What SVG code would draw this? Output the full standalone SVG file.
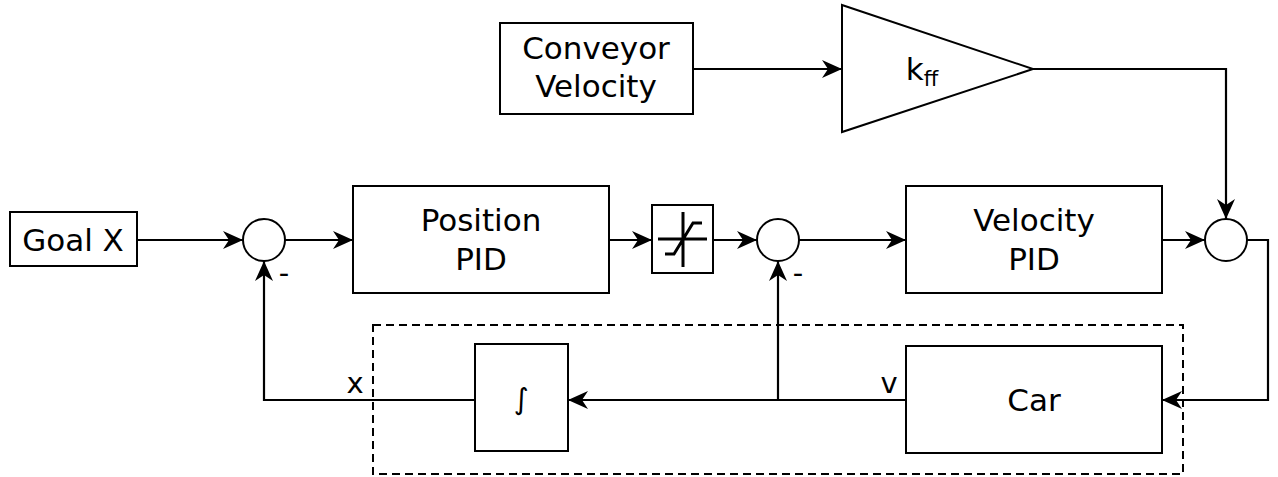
<svg xmlns="http://www.w3.org/2000/svg" width="1278" height="477" viewBox="0 0 1278 477">
<style>
.b{fill:#fff;stroke:#000;stroke-width:2}
.t{font-family:"DejaVu Sans",sans-serif;font-size:31px;fill:#000;text-anchor:middle}
.s{font-family:"DejaVu Sans",sans-serif;font-size:29px;fill:#000;text-anchor:middle}
.c{fill:none;stroke:#000;stroke-width:2.2}
</style>
<defs>
<marker id="a" viewBox="-21 -11 23 22" refX="0" refY="0" markerWidth="23" markerHeight="22" orient="auto" markerUnits="userSpaceOnUse"><path d="M0,0 L-20,-9 L-14,0 L-20,9 Z" fill="#000"/></marker>
</defs>
<rect x="373" y="325" width="810" height="149" fill="none" stroke="#000" stroke-width="2" stroke-dasharray="8,5"/>
<g id="connectors">
<path class="c" d="M137,240 H243" marker-end="url(#a)"/>
<path class="c" d="M285,240 H353" marker-end="url(#a)"/>
<path class="c" d="M609,240 H652" marker-end="url(#a)"/>
<path class="c" d="M713,240 H757" marker-end="url(#a)"/>
<path class="c" d="M799,240 H906" marker-end="url(#a)"/>
<path class="c" d="M1162,240 H1205" marker-end="url(#a)"/>
<path class="c" d="M693,69 H842" marker-end="url(#a)"/>
<path class="c" d="M1033,69 H1226 V219" marker-end="url(#a)"/>
<path class="c" d="M1247,240 H1268 V400 H1162" marker-end="url(#a)"/>
<path class="c" d="M906,400 H568" marker-end="url(#a)"/>
<path class="c" d="M778,400 V261" marker-end="url(#a)"/>
<path class="c" d="M475,400 H264 V261" marker-end="url(#a)"/>
</g>
<g id="goal"><rect class="b" x="10" y="212" width="127" height="54"/><text class="t" x="73" y="251">Goal X</text></g>
<g id="conveyor"><rect class="b" x="500" y="23" width="193" height="91"/><text class="t" x="596" y="59">Conveyor</text><text class="t" x="596" y="97">Velocity</text></g>
<g id="kff"><path class="b" d="M842,5 L1033,69 L842,132 Z"/><text class="t" x="922" y="80" font-size="33">k<tspan font-size="21" dy="6">ff</tspan></text></g>
<g id="sum1"><circle class="b" cx="264" cy="240" r="21"/></g>
<g id="sum2"><circle class="b" cx="778" cy="240" r="21"/></g>
<g id="sum3"><circle class="b" cx="1226" cy="240" r="21"/></g>
<g id="pospid"><rect class="b" x="353" y="186" width="256" height="107"/><text class="t" x="481" y="231">Position</text><text class="t" x="481" y="270">PID</text></g>
<g id="sat"><rect class="b" x="652" y="205" width="61" height="68"/><path fill="none" stroke="#000" stroke-width="3" d="M683,212 V267 M658,239 H707 M665,254 H674 L693,223 H702"/></g>
<g id="velpid"><rect class="b" x="906" y="186" width="256" height="107"/><text class="t" x="1034" y="231">Velocity</text><text class="t" x="1034" y="270">PID</text></g>
<g id="car"><rect class="b" x="906" y="346" width="256" height="107"/><text class="t" x="1034" y="411">Car</text></g>
<g id="integ"><rect class="b" x="475" y="344" width="93" height="107"/><text class="s" x="521" y="409" font-size="46">∫</text></g>
<g id="labels">
<text class="s" x="284" y="283">-</text>
<text class="s" x="798" y="283">-</text>
<text class="s" x="355" y="393">x</text>
<text class="s" x="889" y="393">v</text>
</g>
</svg>
